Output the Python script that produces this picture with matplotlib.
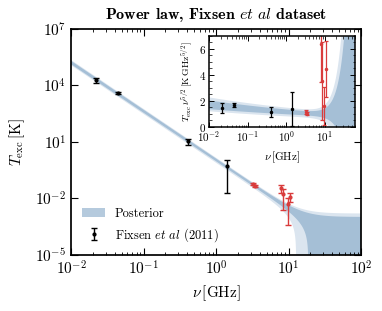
import numpy as np
import matplotlib
matplotlib.use('Agg')
import matplotlib.pyplot as plt
from matplotlib.patches import Patch
from matplotlib import ticker

plt.rcParams.update({
    'font.family': 'serif',
    'font.serif': ['cmr10'],
    'mathtext.fontset': 'cm',
    'axes.unicode_minus': False,
    'axes.formatter.use_mathtext': True,
    'xtick.direction': 'in',
    'ytick.direction': 'in',
    'xtick.top': True,
    'ytick.right': True,
    'axes.linewidth': 1.25,
})

# ---- data ----
radio_freq = [0.022, 0.045, 0.408, 1.42]          # GHz
radio_T = [19600, 3890, 10.6, 0.56]                # K
radio_err = [5500, 420, 3.9, 0.54]
arcade_freq = [3.20, 3.41, 7.97, 8.33, 9.72, 10.49]
arcade_T = [0.062, 0.0465, 0.0357, 0.0175, 0.0054, 0.0125]
arcade_err = [0.008, 0.006, 0.0167, 0.015, 0.005, 0.006]

# posterior band edges (power law + offset): 2sig low, 1sig low, 1sig high, 2sig high
band_amp = [0.79, 0.95, 1.32, 1.46]
band_index = [-2.587, -2.575, -2.592, -2.594]
band_offset = [-1.09e-3, -5.0e-4, 1.05e-3, 1.6e-3]

col_light = '#dbe5ef'
col_dark = '#a5bfd6'
col_legend = '#b5cadd'
col_red = '#d93b3b'

nu = np.logspace(-2, 2, 3000)
edges = [a * nu ** b + c for a, b, c in zip(band_amp, band_index, band_offset)]

fig = plt.figure(figsize=(3.82, 3.11), dpi=100)
ax = fig.add_axes([0.186, 0.180, 0.759, 0.727])

floor = 1e-12
ax.fill_between(nu, np.clip(edges[0], floor, None), edges[3], color=col_light, lw=0)
ax.fill_between(nu, np.clip(edges[1], floor, None), edges[2], color=col_dark, lw=0)

eb = ax.errorbar(radio_freq, radio_T, yerr=radio_err, fmt='o', color='black', ms=2,
                 elinewidth=1, capsize=2, capthick=1)
ax.errorbar(arcade_freq, arcade_T, yerr=arcade_err, fmt='o', color=col_red, ms=2,
            elinewidth=1, capsize=2, capthick=1)

ax.set_xscale('log')
ax.set_yscale('log')
ax.set_xlim(1e-2, 1e2)
ax.set_ylim(1e-5, 1e7)
ax.yaxis.set_major_locator(ticker.FixedLocator([1e-5, 1e-2, 1e1, 1e4, 1e7]))
ax.yaxis.set_minor_locator(ticker.NullLocator())
ax.xaxis.set_major_locator(ticker.LogLocator(base=10, numticks=10))
ax.xaxis.set_minor_locator(ticker.LogLocator(base=10, subs=np.arange(2, 10), numticks=10))
ax.tick_params(which='major', length=5, width=0.8, labelsize=11)
ax.tick_params(which='minor', length=2.5, width=0.6)

ax.set_xlabel(r'$\nu\,[\mathrm{GHz}]$', fontsize=11)
ax.set_ylabel(r'$T_{\mathrm{exc}}\,[\mathrm{K}]$', fontsize=11, labelpad=6)
ax.set_title(r'Power law, Fixsen $\mathit{et\ al}$ dataset', fontfamily='cmb10', fontsize=11.5, pad=7)

ax.legend([Patch(facecolor=col_legend, edgecolor='none'), eb],
          ['Posterior', r'Fixsen $\mathit{et\ al}$ (2011)'],
          loc='lower left', frameon=False, fontsize=9, handlelength=1.8)

# ---- inset ----
ins = fig.add_axes([0.547, 0.593, 0.382, 0.292])
scale = nu ** 2.5
ins.fill_between(nu, edges[0] * scale, edges[3] * scale, color=col_light, lw=0)
ins.fill_between(nu, edges[1] * scale, edges[2] * scale, color=col_dark, lw=0)
ins.errorbar(radio_freq, np.array(radio_T) * np.array(radio_freq) ** 2.5,
             yerr=np.array(radio_err) * np.array(radio_freq) ** 2.5,
             fmt='o', color='black', ms=1.5, elinewidth=0.9, capsize=1.5, capthick=0.9)
ins.errorbar(arcade_freq, np.array(arcade_T) * np.array(arcade_freq) ** 2.5,
             yerr=np.array(arcade_err) * np.array(arcade_freq) ** 2.5,
             fmt='o', color=col_red, ms=1.5, elinewidth=0.9, capsize=1.5, capthick=0.9)
ins.set_xscale('log')
ins.set_xlim(1e-2, 60)
ins.set_ylim(0, 7)
ins.set_yticks([0, 2, 4, 6])
ins.yaxis.set_minor_locator(ticker.AutoMinorLocator(4))
ins.xaxis.set_major_locator(ticker.LogLocator(base=10, numticks=10))
ins.xaxis.set_minor_locator(ticker.LogLocator(base=10, subs=np.arange(2, 10), numticks=10))
ins.tick_params(which='major', length=3.5, width=0.7, labelsize=8, pad=2)
ins.tick_params(which='minor', length=1.8, width=0.5)
for s in ins.spines.values():
    s.set_linewidth(1.1)
ins.set_xlabel(r'$\nu\,[\mathrm{GHz}]$', fontsize=8)
ins.set_ylabel(r'$T_{\mathrm{exc}}\,\nu^{5/2}\,[\mathrm{K\,GHz}^{5/2}]$', fontsize=7, labelpad=3)

fig.savefig('out.png', dpi=100)
